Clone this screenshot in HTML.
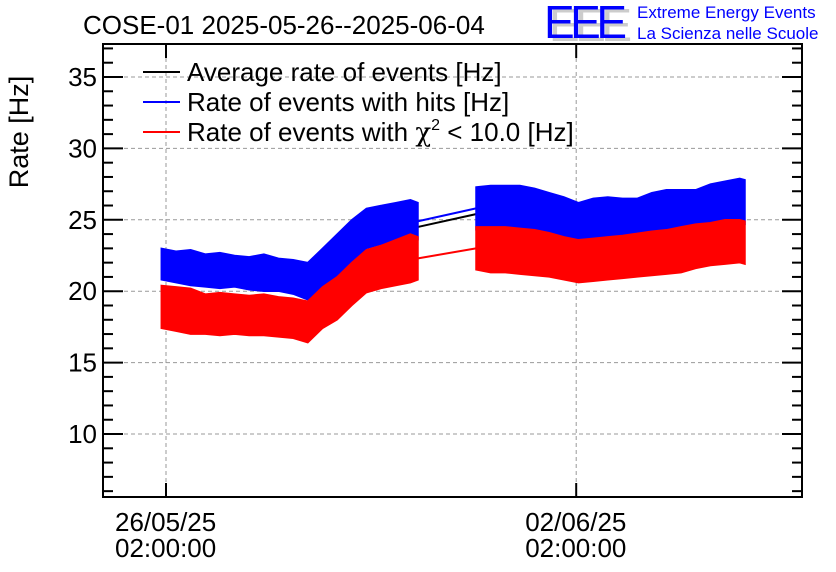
<!DOCTYPE html>
<html><head><meta charset="utf-8"><style>
body{margin:0;background:#fff;}
svg{display:block;font-family:"Liberation Sans",sans-serif;}
</style></head><body>
<svg id="chart" width="836" height="572" xmlns="http://www.w3.org/2000/svg">
<rect width="836" height="572" fill="#fff"/>
<g id="grid"></g>
<g id="series"></g>
<rect x="103" y="44" width="699" height="453" fill="none" stroke="#000" stroke-width="2"/>
<g id="axes"></g>
<text x="83" y="34" font-size="26">COSE-01 2025-05-26--2025-06-04</text>
<text transform="translate(28,132) rotate(-90)" text-anchor="middle" font-size="27">Rate [Hz]</text>
<g>
<text x="549" y="41" font-size="46" fill="#ccc" textLength="83">EEE</text>
<text x="544" y="38" font-size="46" fill="#0000ff" textLength="83">EEE</text>
<text x="637" y="18" font-size="17" fill="#0000ff">Extreme Energy Events</text>
<text x="637" y="39" font-size="17" fill="#0000ff">La Scienza nelle Scuole</text>
</g>
<g>
<g><line x1="143" y1="72" x2="180" y2="72" stroke="#000" stroke-width="2"/><text x="187" y="81" font-size="26">Average rate of events [Hz]</text></g>
<g><line x1="143" y1="102" x2="180" y2="102" stroke="#0000ff" stroke-width="2"/><text x="187" y="111" font-size="26">Rate of events with hits [Hz]</text></g>
<g><line x1="143" y1="132" x2="180" y2="132" stroke="#ff0000" stroke-width="2"/><text x="187" y="141" font-size="26">Rate of events with <tspan font-family="'DejaVu Serif',serif">χ</tspan><tspan font-size="16" dy="-11">2</tspan><tspan dy="11"> &lt; 10.0 [Hz]</tspan></text></g>
</g>
</svg>
<script>
// time in days from 26/05/25 02:00:00
const t1 = [-0.08,0.17,0.42,0.67,0.92,1.17,1.42,1.67,1.92,2.17,2.42,2.67,2.92,3.17,3.42,3.67,3.92,4.17,4.3];
const blueHi1 = [23.0,22.8,22.9,22.6,22.7,22.5,22.4,22.6,22.3,22.2,22.0,23.0,24.0,25.0,25.8,26.0,26.2,26.4,26.2];
const blueLo1 = [20.8,20.6,20.4,20.3,20.2,20.3,20.1,20.0,20.0,19.8,19.4,20.0,21.0,22.0,23.0,23.3,23.4,23.5,23.6];
const redHi1 = [20.4,20.3,20.2,19.8,19.9,19.8,19.7,19.8,19.6,19.5,19.3,20.3,21.0,22.0,22.9,23.2,23.6,24.0,23.8];
const redLo1 = [17.4,17.2,17.0,17.0,16.9,17.0,16.9,16.9,16.8,16.7,16.4,17.4,18.0,19.0,19.9,20.2,20.4,20.6,20.8];
const t2 = [5.29,5.54,5.79,6.04,6.29,6.54,6.79,7.04,7.29,7.54,7.79,8.04,8.29,8.54,8.79,9.04,9.29,9.54,9.79,9.88];
const blueHi2 = [27.3,27.4,27.4,27.4,27.2,26.9,26.6,26.2,26.5,26.6,26.5,26.5,26.9,27.1,27.1,27.1,27.5,27.7,27.9,27.8];
const blueLo2 = [24.3,24.3,24.3,24.2,24.1,23.9,23.6,23.4,23.5,23.6,23.7,23.8,24.0,24.1,24.3,24.5,24.6,24.8,24.8,24.7];
const redHi2 = [24.5,24.5,24.5,24.4,24.3,24.1,23.8,23.6,23.7,23.8,23.9,24.05,24.2,24.3,24.5,24.7,24.8,25.0,25.0,24.9];
const redLo2 = [21.5,21.3,21.3,21.2,21.1,21.0,20.8,20.6,20.7,20.8,20.9,21.0,21.1,21.2,21.3,21.6,21.8,21.9,22.0,21.9];
const yTicks = [10,15,20,25,30,35];
const xTickDays = [0,7];
const xTickDates = ["26/05/25","02/06/25"];
const xTickTimes = ["02:00:00","02:00:00"];

const NS="http://www.w3.org/2000/svg";
const X0=103,X1=802,Y0=44,Y1=497,YMIN=5.59,YMAX=37.31;
const xS=d=>166+58.6*d;
const yS=v=>Y1-(v-YMIN)/(YMAX-YMIN)*(Y1-Y0);
function mk(tag,parent,attrs){const e=document.createElementNS(NS,tag);for(const k in attrs)e.setAttribute(k,attrs[k]);parent.appendChild(e);return e;}
const grid=document.getElementById('grid'),axes=document.getElementById('axes'),ser=document.getElementById('series');
yTicks.forEach(v=>{
  const l=mk('line',grid,{x1:X0,x2:X1,y1:yS(v),y2:yS(v),stroke:'#999','stroke-dasharray':'4,3','stroke-width':1});
  
  
  const tx=mk('text',axes,{x:97,y:yS(v)+9,'text-anchor':'end','font-size':26});
  tx.textContent=v;
  
  
});
for(let v=6;v<=37;v++){
  const len=(v%5===0)?20:10;
  mk('line',axes,{x1:X0,x2:X0+len,y1:yS(v),y2:yS(v),stroke:'#000','stroke-width':2});
  mk('line',axes,{x1:X1-len,x2:X1,y1:yS(v),y2:yS(v),stroke:'#000','stroke-width':2});
}
xTickDays.forEach((d,i)=>{
  const l=mk('line',grid,{x1:xS(d),x2:xS(d),y1:Y0,y2:Y1,stroke:'#999','stroke-dasharray':'4,3','stroke-width':1});
  
  
  mk('line',axes,{x1:xS(d),x2:xS(d),y1:Y1-14,y2:Y1,stroke:'#000','stroke-width':2});
  mk('line',axes,{x1:xS(d),x2:xS(d),y1:Y0,y2:Y0+14,stroke:'#000','stroke-width':2});
  const a=mk('text',axes,{x:xS(d)-51,y:531,'font-size':26});a.textContent=xTickDates[i];
  
  
  const b=mk('text',axes,{x:xS(d)-51,y:557,'font-size':26});b.textContent=xTickTimes[i];
  
  
});
function band(t,hi,lo,color,name){
  let p=t.map((d,i)=>xS(d).toFixed(1)+','+yS(hi[i]).toFixed(1));
  for(let i=t.length-1;i>=0;i--)p.push(xS(t[i]).toFixed(1)+','+yS(lo[i]).toFixed(1));
  const e=mk('polygon',ser,{points:p.join(' '),fill:color,stroke:color,'stroke-width':1.5,'stroke-linejoin':'miter'});
  
  
}
function mid(hi,lo,i,off){return (hi[i]+lo[i])/2+(off||0);}
function gapLine(hi1,lo1,hi2,lo2,color,off,name){
  const n=t1.length-1;
  const e=mk('line',ser,{x1:xS(t1[n]),y1:yS(mid(hi1,lo1,n,off)),x2:xS(t2[0]),y2:yS(mid(hi2,lo2,0,off)),stroke:color,'stroke-width':2});
  
  
}
gapLine(blueHi1,blueLo1,blueHi2,blueLo2,'#000',-0.4,'average-gap-line');
gapLine(blueHi1,blueLo1,blueHi2,blueLo2,'#0000ff',0,'hits-gap-line');
gapLine(redHi1,redLo1,redHi2,redLo2,'#ff0000',0,'chi2-gap-line');
band(t1,blueHi1,blueLo1,'#0000ff','hits-series-1');
band(t2,blueHi2,blueLo2,'#0000ff','hits-series-2');
band(t1,redHi1,redLo1,'#ff0000','chi2-series-1');
band(t2,redHi2,redLo2,'#ff0000','chi2-series-2');
</script>
</body></html>
